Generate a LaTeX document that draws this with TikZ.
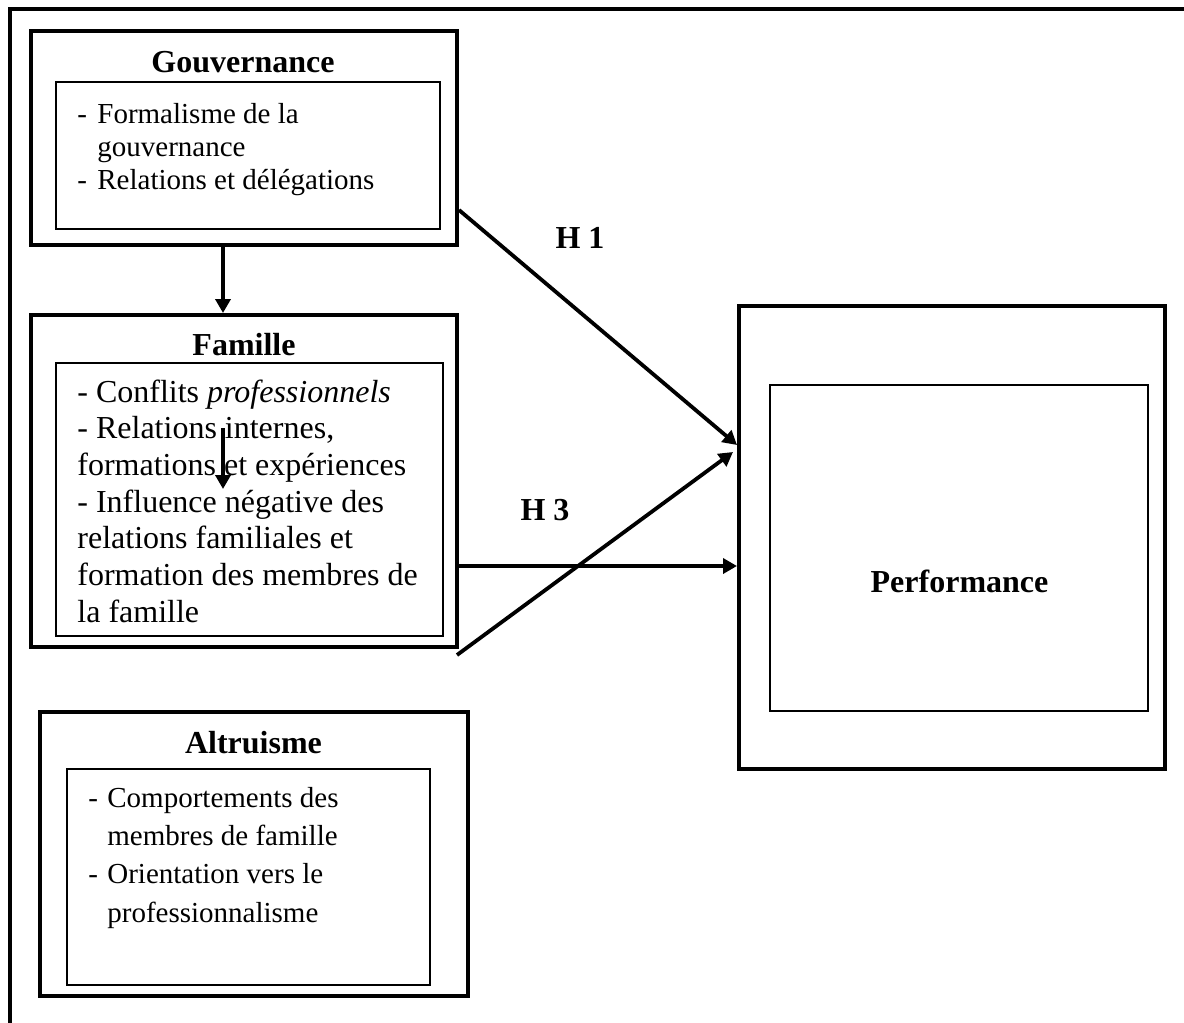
\documentclass[tikz,border=0pt]{standalone}
\usepackage{fontspec}
\setmainfont{Liberation Serif}
\usetikzlibrary{arrows.meta}

\begin{document}
\begin{tikzpicture}[
    x=0.5pt, y=-0.5pt,
    outerbox/.style={rectangle, draw, line width=2pt, inner sep=0pt},
    innerbox/.style={rectangle, draw, line width=1pt, inner sep=0pt},
    title/.style={font=\fontsize{16}{19}\selectfont\bfseries, inner sep=0pt, anchor=base},
    items/.style={inner sep=0pt, anchor=north west},
    arr/.style={-{Triangle[length=7pt, width=7.5pt]}, line width=1.9pt}
]
    \useasboundingbox (0,0) rectangle (1184,1023);

    % Frame
    \draw[line width=2pt] (1184,9) -- (10,9) -- (10,1023);

    % Gouvernance
    \node[outerbox, minimum width=213.25pt, minimum height=107.25pt] (gouv) at (243.75,137.75) {};
    \node[innerbox, minimum width=192pt, minimum height=73.5pt] (gouvIn) at (248,155.5) {};
    \node[title] (gouvTitle) at (243,72) {Gouvernance};
    \node[items, font=\fontsize{14.5}{16.5}\selectfont] (gouvText) at (77,100)
        {\begin{tabular}{@{}p{10pt}@{}l@{}}
         - & Formalisme de la\\
           & gouvernance\\
         - & Relations et délégations
         \end{tabular}};

    % Famille
    \node[outerbox, minimum width=213pt, minimum height=166pt] (fam) at (244,481) {};
    \node[innerbox, minimum width=193.5pt, minimum height=136.5pt] (famIn) at (249.5,499.5) {};
    \node[title] (famTitle) at (244,355) {Famille};
    \node[items, font=\fontsize{16}{18.35}\selectfont] (famText) at (77,376)
        {\begin{tabular}{@{}l@{}}
         - Conflits \textit{professionnels}\\
         - Relations internes,\\
         formations et expériences\\
         - Influence négative des\\
         relations familiales et\\
         formation des membres de\\
         la famille
         \end{tabular}};

    % Altruisme
    \node[outerbox, minimum width=214pt, minimum height=142pt] (alt) at (254,854) {};
    \node[innerbox, minimum width=181.5pt, minimum height=108pt] (altIn) at (248.5,877) {};
    \node[title] (altTitle) at (253.5,753) {Altruisme};
    \node[items, font=\fontsize{14.5}{19.15}\selectfont] (altText) at (88,780)
        {\begin{tabular}{@{}p{9.5pt}@{}l@{}}
         - & Comportements des\\
           & membres de famille\\
         - & Orientation vers le\\
           & professionnalisme
         \end{tabular}};

    % Performance
    \node[outerbox, minimum width=213pt, minimum height=231.5pt] (perf) at (952,537.5) {};
    \node[innerbox, minimum width=189pt, minimum height=163pt] (perfIn) at (959,548) {};
    \node[title] (perfTitle) at (959.5,592) {Performance};

    % Hypotheses
    \node[title] (h1) at (580,248) {H 1};
    \node[title] (h3) at (545,520) {H 3};

    % Arrows
    \coordinate (axis) at (223,0);
    \coordinate (famTop) at (223,428);
    \coordinate (famBot) at (223,489);
    \coordinate (h3tip) at (733,452);
    \draw[arr] (gouv.south -| axis) -- (fam.north -| axis);
    \draw[arr] (famTop) -- (famBot);
    \draw[arr] (gouv.east |- 0,210) -- (perf.west |- 0,445);
    \draw[arr] ([shift={(-2,6)}]fam.south east) -- (h3tip);
    \draw[arr] (fam.east |- 0,566) -- (perf.west |- 0,566);
\end{tikzpicture}
\end{document}
